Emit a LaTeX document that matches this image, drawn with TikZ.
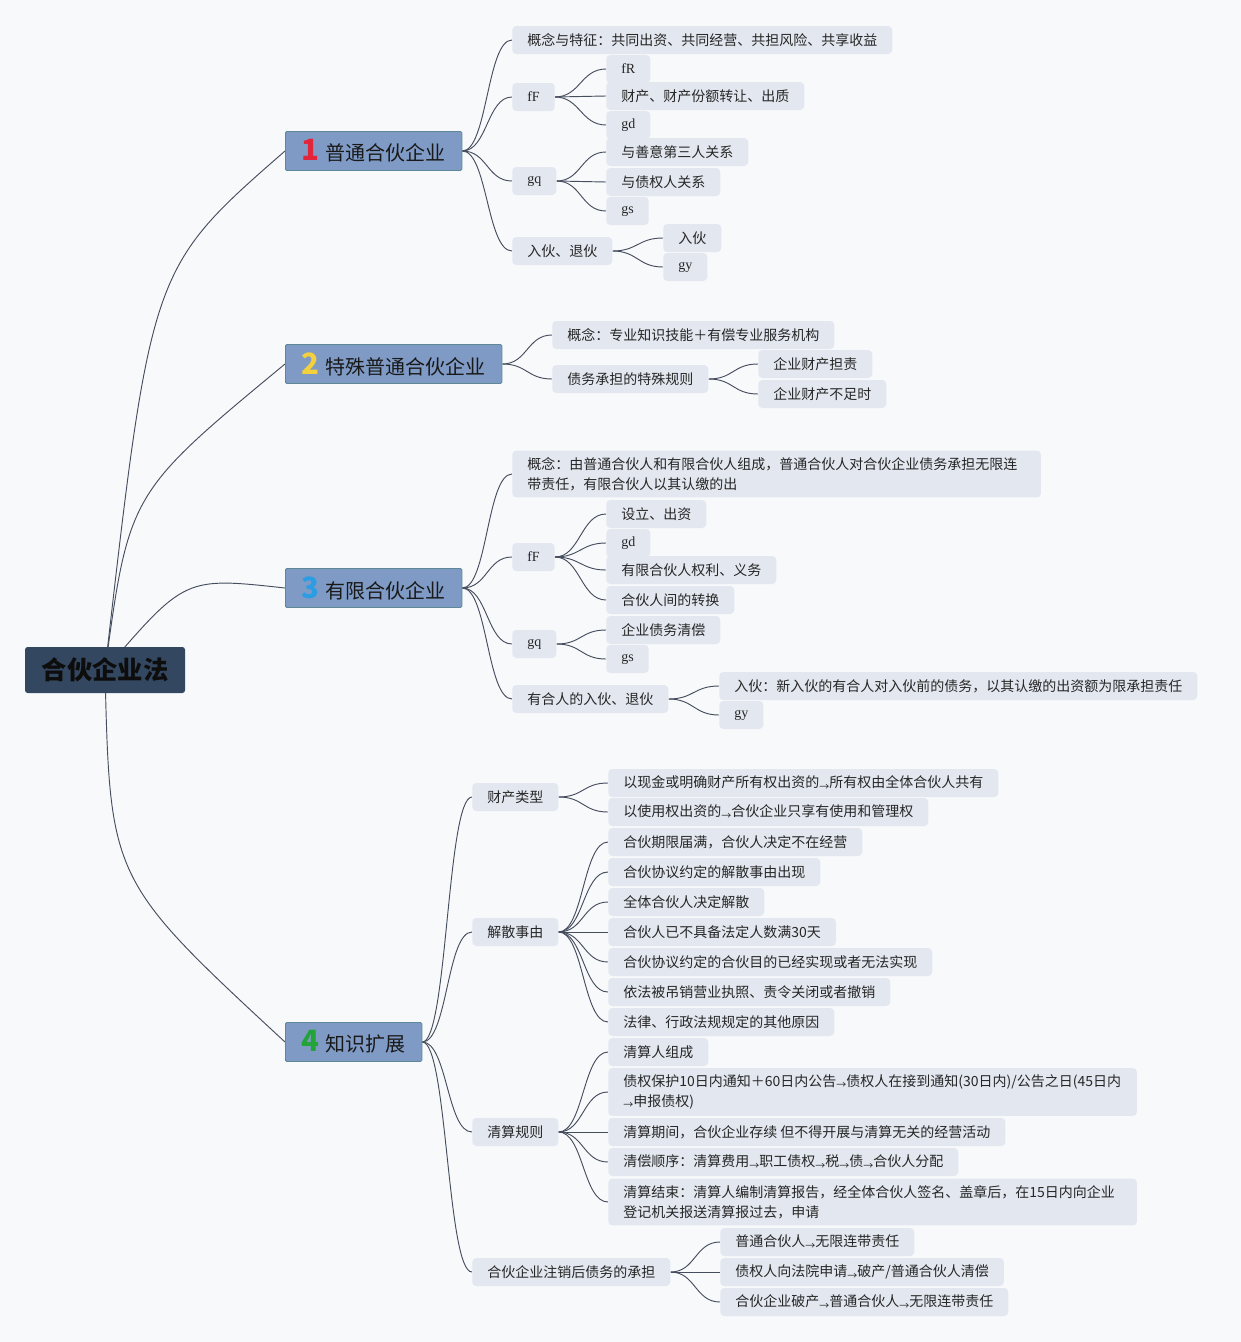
\documentclass[tikz,border=0pt]{standalone}
\usepackage{fontspec}
\setmainfont{Noto Sans CJK SC}
\newfontfamily\latf{Liberation Serif}
\usetikzlibrary{backgrounds}

\definecolor{paper}{HTML}{F8F9FB}
\definecolor{itemfill}{HTML}{E3E8F0}
\definecolor{topicfill}{HTML}{7F9BC5}
\definecolor{topicline}{HTML}{5E8898}
\definecolor{corefill}{HTML}{344760}
\definecolor{wirec}{HTML}{454D5E}
\definecolor{numa}{HTML}{E3253C}
\definecolor{numb}{HTML}{F3D03C}
\definecolor{numc}{HTML}{2C9DE3}
\definecolor{numd}{HTML}{24A33A}

\newcommand{\rto}{\raisebox{-1.8pt}{\fontsize{7.5pt}{7.5pt}\selectfont →}}
\newcommand{\num}[2]{{\fontsize{22pt}{22pt}\selectfont\bfseries\color{#1}#2}\hspace{5pt}}

\tikzstyle{core} = [fill=corefill, rounded corners=2pt, minimum width=120pt, minimum height=34.5pt, text=black!95, font=\fontsize{19pt}{22pt}\selectfont\bfseries]
\tikzstyle{topic} = [fill=topicfill, draw=topicline, line width=0.6pt, rounded corners=1pt, anchor=west, minimum height=29.25pt, inner xsep=12pt, text=black!90, font=\fontsize{15pt}{18pt}\selectfont]
\tikzstyle{item} = [fill=itemfill, rounded corners=3pt, anchor=west, minimum height=21pt, inner xsep=11.25pt, inner ysep=2pt, text=black!85, font=\fontsize{10.5pt}{15pt}\selectfont]
\tikzstyle{note} = [item, text width=374pt, align=left, inner ysep=5pt]
\tikzstyle{wire} = [draw=wirec, line width=0.7pt]

\begin{document}
\begin{tikzpicture}[x=0.75pt, y=-0.75pt]
% root and the four topics
\node[core] (core) at (105,670) {合伙企业法};
\node[topic] (h1) at (285,151) {\num{numa}{1}普通合伙企业};
\node[topic] (h2) at (285,364) {\num{numb}{2}特殊普通合伙企业};
\node[topic] (h3) at (285,588) {\num{numc}{3}有限合伙企业};
\node[topic] (h4) at (285,1042) {\num{numd}{4}知识扩展};

% 1
\node[item] (a1) at (512,40) {概念与特征：共同出资、共同经营、共担风险、共享收益};
\node[item] (a2) at (512,97) {\latf fF};
\node[item] (a3) at (512,181) {\latf gq};
\node[item] (a4) at (512,251) {入伙、退伙};
\node[item] (a21) at (606,69) {\latf fR};
\node[item] (a22) at (606,96) {财产、财产份额转让、出质};
\node[item] (a23) at (606,125) {\latf gd};
\node[item] (a31) at (606,152) {与善意第三人关系};
\node[item] (a32) at (606,182) {与债权人关系};
\node[item] (a33) at (606,211) {\latf gs};
\node[item] (a41) at (663,238) {入伙};
\node[item] (a42) at (663,267) {\latf gy};

% 2
\node[item] (b1) at (552,335) {概念：专业知识技能＋有偿专业服务机构};
\node[item] (b2) at (552,379) {债务承担的特殊规则};
\node[item] (b21) at (758,364) {企业财产担责};
\node[item] (b22) at (758,394) {企业财产不足时};

% 3
\node[note] (c1) at (512,474) {概念：由普通合伙人和有限合伙人组成，普通合伙人对合伙企业债务承担无限连\\带责任，有限合伙人以其认缴的出};
\node[item] (c2) at (512,557) {\latf fF};
\node[item] (c3) at (512,644) {\latf gq};
\node[item] (c4) at (512,699) {有合人的入伙、退伙};
\node[item] (c21) at (606,514) {设立、出资};
\node[item] (c22) at (606,543) {\latf gd};
\node[item] (c23) at (606,570) {有限合伙人权利、义务};
\node[item] (c24) at (606,600) {合伙人间的转换};
\node[item] (c31) at (606,630) {企业债务清偿};
\node[item] (c32) at (606,659) {\latf gs};
\node[item] (c41) at (719,686) {入伙：新入伙的有合人对入伙前的债务，以其认缴的出资额为限承担责任};
\node[item] (c42) at (719,715) {\latf gy};

% 4
\node[item] (d1) at (472,797) {财产类型};
\node[item] (d2) at (472,932) {解散事由};
\node[item] (d3) at (472,1132) {清算规则};
\node[item] (d4) at (472,1272) {合伙企业注销后债务的承担};
\node[item] (d11) at (608,783) {以现金或明确财产所有权出资的\rto 所有权由全体合伙人共有};
\node[item] (d12) at (608,812) {以使用权出资的\rto 合伙企业只享有使用和管理权};
\node[item] (d21) at (608,842) {合伙期限届满，合伙人决定不在经营};
\node[item] (d22) at (608,872) {合伙协议约定的解散事由出现};
\node[item] (d23) at (608,902) {全体合伙人决定解散};
\node[item] (d24) at (608,932) {合伙人已不具备法定人数满30天};
\node[item] (d25) at (608,962) {合伙协议约定的合伙目的已经实现或者无法实现};
\node[item] (d26) at (608,992) {依法被吊销营业执照、责令关闭或者撤销};
\node[item] (d27) at (608,1022) {法律、行政法规规定的其他原因};
\node[item] (d31) at (608,1052) {清算人组成};
\node[note] (d32) at (608,1092) {\mbox{债权保护10日内通知＋60日内公告\rto 债权人在接到通知(30日内)/公告之日(45日内}\\\rto 申报债权)};
\node[item] (d33) at (608,1132) {清算期间，合伙企业存续 但不得开展与清算无关的经营活动};
\node[item] (d34) at (608,1162) {清偿顺序：清算费用\rto 职工债权\rto 税\rto 债\rto 合伙人分配};
\node[note] (d35) at (608,1202) {清算结束：清算人编制清算报告，经全体合伙人签名、盖章后，在15日内向企业\\登记机关报送清算报过去，申请};
\node[item] (d41) at (720,1242) {普通合伙人\rto 无限连带责任};
\node[item] (d42) at (720,1272) {债权人向法院申请\rto 破产/普通合伙人清偿};
\node[item] (d43) at (720,1302) {合伙企业破产\rto 普通合伙人\rto 无限连带责任};

\begin{pgfonlayer}{background}
\fill[paper] (0,0) rectangle (1241,1342);
\foreach \q/\cx/\cy in {h1/151/268, h2/129/493, h3/185/577, h4/110/880}
  \draw[wire] (core.center) .. controls (\cx,\cy) .. (\q.west);
\foreach \p/\q in {h1/a1,h1/a2,h1/a3,h1/a4,a2/a21,a2/a22,a2/a23,a3/a31,a3/a32,a3/a33,a4/a41,a4/a42,
  h2/b1,h2/b2,b2/b21,b2/b22,
  h3/c1,h3/c2,h3/c3,h3/c4,c2/c21,c2/c22,c2/c23,c2/c24,c3/c31,c3/c32,c4/c41,c4/c42,
  h4/d1,h4/d2,h4/d3,h4/d4,d1/d11,d1/d12,d2/d21,d2/d22,d2/d23,d2/d24,d2/d25,d2/d26,d2/d27,
  d3/d31,d3/d32,d3/d33,d3/d34,d3/d35,d4/d41,d4/d42,d4/d43}
  \draw[wire] (\p.east) .. controls +(25,0) and +(-25,0) .. (\q.west);
\end{pgfonlayer}
\end{tikzpicture}
\end{document}
